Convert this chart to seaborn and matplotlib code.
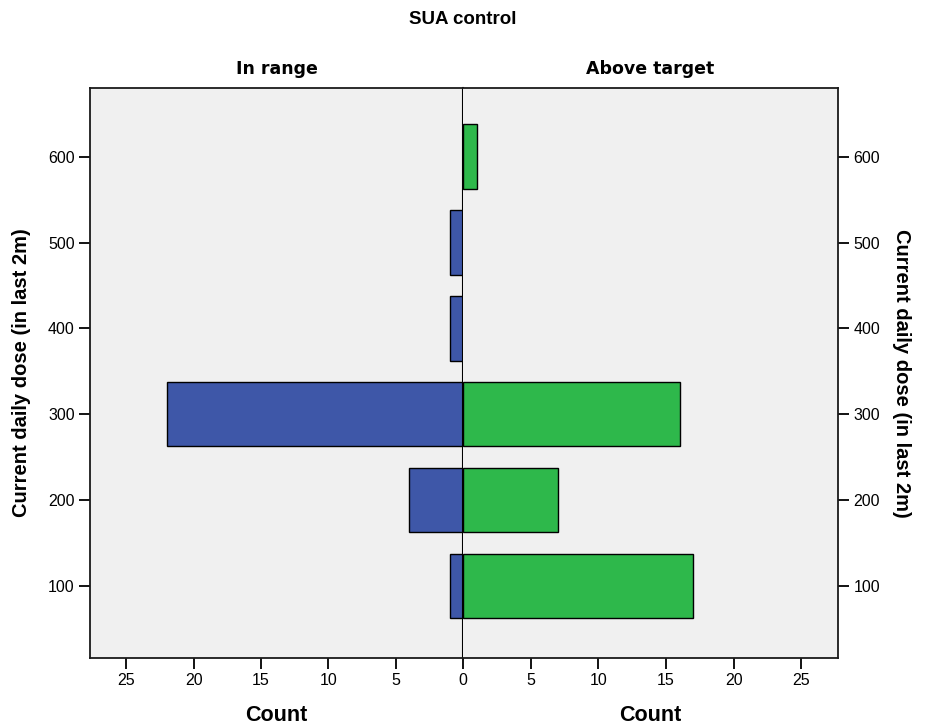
import matplotlib
matplotlib.use("Agg")
import matplotlib.pyplot as plt
import seaborn as sns
import pandas as pd

# values
doses = [100, 200, 300, 400, 500, 600]
in_range = [1, 4, 22, 1, 1, 0]
above_target = [17, 7, 16, 0, 0, 1]
count_ticks = [0, 5, 10, 15, 20, 25]

BLUE = "#3E57A8"
GREEN = "#2EB84B"
BG = "#F0F0F0"

sns.set_style("ticks")
plt.rcParams["font.family"] = ["Liberation Sans", "DejaVu Sans"]
plt.rcParams["text.color"] = "black"
plt.rcParams["axes.labelcolor"] = "black"
plt.rcParams["xtick.color"] = "black"
plt.rcParams["ytick.color"] = "black"

df = pd.DataFrame({"dose": doses, "In range": in_range, "Above target": above_target})

fig = plt.figure(figsize=(9.25, 7.27), dpi=100)
x0, x1 = 90 / 925, 838 / 925
xm = 463 / 925
y0, y1 = 1 - 658 / 727, 1 - 88 / 727
ax_l = fig.add_axes([x0, y0, xm - x0, y1 - y0])
ax_r = fig.add_axes([xm, y0, x1 - xm, y1 - y0])

panels = [(ax_l, "In range", BLUE), (ax_r, "Above target", GREEN)]
for ax, col, color in panels:
    sub = df[df[col] > 0]
    sns.barplot(data=sub, x=col, y="dose", orient="y", native_scale=True,
                width=0.75, color=color, edgecolor="black", linewidth=1,
                saturation=1, ax=ax)
    ax.set_facecolor(BG)
    ax.set_ylim(16, 680)
    ax.set_yticks(doses)
    ax.set_title(col, fontsize=12.5, fontweight="bold", pad=10, family="DejaVu Sans")
    ax.set_xlabel("Count", fontsize=15.5, fontweight="bold", labelpad=12)
    ax.tick_params(axis="both", labelsize=11.5, length=8, width=1.3,
                   pad=3, direction="out")
    for s in ax.spines.values():
        s.set_linewidth(1.3)
        s.set_color("#1a1a1a")

ax_l.set_xlim(27.7, 0)
ax_l.set_xticks(count_ticks[::-1])
ax_l.spines["right"].set_color("black")
ax_l.spines["right"].set_linewidth(1.5)
ax_l.set_ylabel("Current daily dose (in last 2m)", fontsize=14.5, fontweight="bold", labelpad=12)

ax_r.set_xlim(0, 27.7)
ax_r.set_xticks(count_ticks[1:])
ax_r.spines["left"].set_visible(False)
ax_r.yaxis.tick_right()
ax_r.yaxis.set_label_position("right")
ax_r.set_ylabel("Current daily dose (in last 2m)", fontsize=14.5, fontweight="bold",
                rotation=270, labelpad=22)

fig.suptitle("SUA control", x=xm, y=0.985, fontsize=13.5, fontweight="bold")

fig.savefig("out.png", dpi=100)
